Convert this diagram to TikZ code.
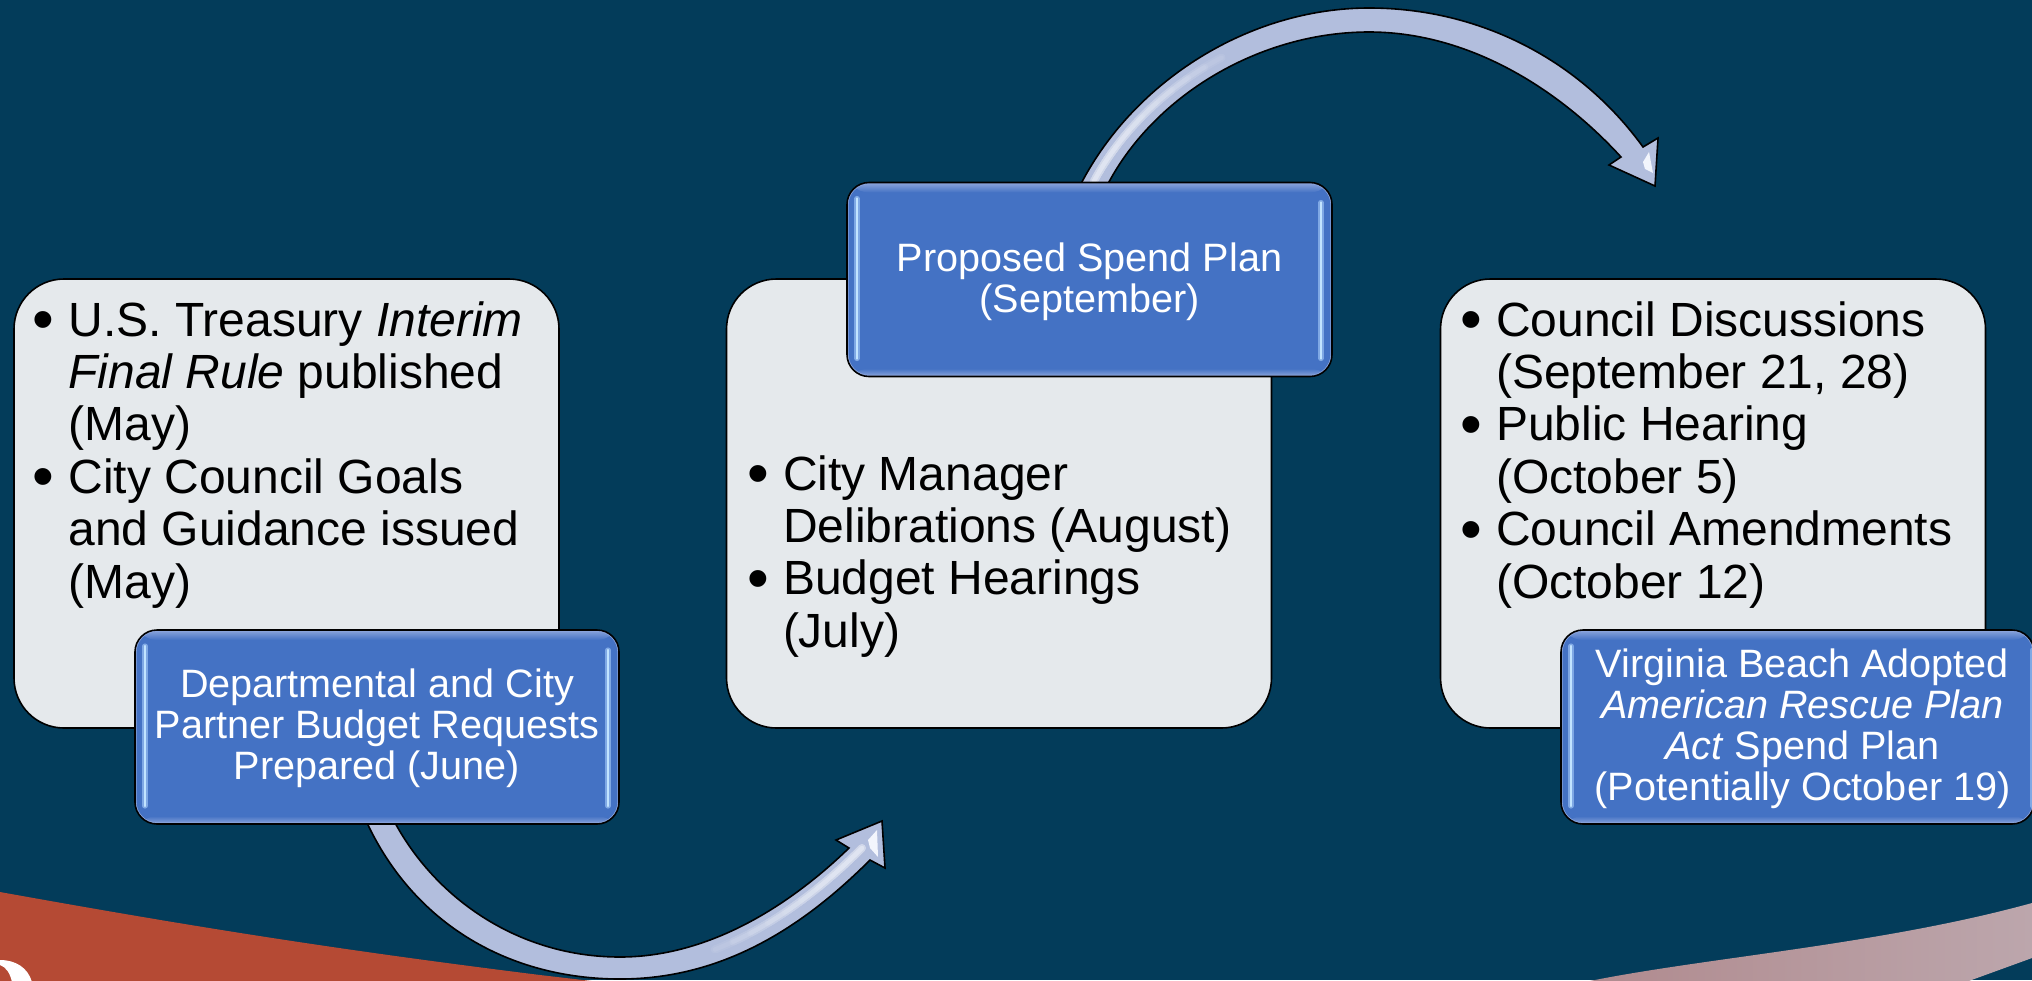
\documentclass[tikz,border=0pt]{standalone}
\usepackage{fontspec}
\setmainfont{Liberation Sans}
\usetikzlibrary{backgrounds}
\definecolor{bgc}{HTML}{033C5A}
\definecolor{redc}{HTML}{B54A34}
\definecolor{grayc}{HTML}{E5E9EC}
\definecolor{bluec}{HTML}{4472C4}
\definecolor{bevelc}{HTML}{8CA5DC}
\definecolor{glowc}{HTML}{7FA8E4}
\definecolor{linec}{HTML}{C2E4FF}
\definecolor{arrowc}{HTML}{B2BEDD}
\definecolor{hic}{HTML}{F2F5FC}
\definecolor{pinkl}{HTML}{B08A8E}
\definecolor{pinkr}{HTML}{BCA6AC}
% first-line baseline sits #1 above the node centre
\newcommand{\graytext}[3]{\smash{\raisebox{#1}{\parbox[t]{#2}{\fontsize{24pt}{26.2pt}\selectfont\leavevmode\color{black}\raggedright #3}}}}
\newcommand{\bluetext}[2]{\smash{\raisebox{#1}{\parbox[t]{230pt}{\fontsize{19.8pt}{20.6pt}\selectfont\leavevmode\color{white}\centering #2}}}}
\newcommand{\bul}{\makebox[18pt][l]{\raisebox{-2.2pt}{\fontsize{31pt}{26pt}\selectfont •}}}
\newcommand{\ind}{\hspace*{18pt}}
\newcommand{\rinset}{5.5pt}
\tikzset{
  rightinset/.code={\renewcommand{\rinset}{#1}},
  grayshape/.style={draw=black,line width=.8pt,fill=grayc,rounded corners=25pt,minimum width=272.5pt,minimum height=224.5pt,inner sep=0pt},
  blueshape/.style={draw=black,line width=.8pt,fill=bluec,rounded corners=11pt,minimum height=97pt,inner sep=0pt,
    path picture={
      \path (path picture bounding box.north west) coordinate (nw) (path picture bounding box.south east) coordinate (se);
      \fill[top color=bevelc,bottom color=bluec] (nw) rectangle ([yshift=-5pt]nw-|se);
      \fill[bottom color=bevelc,top color=bluec] (se) rectangle ([yshift=4pt]se-|nw);
      \draw[bevelc,line width=1.6pt,rounded corners=11pt] (nw) rectangle (se);
      \draw[glowc,line width=2.6pt,line cap=round] ([xshift=5pt,yshift=-8pt]nw) -- ([xshift=5pt,yshift=9pt]nw|-se);
      \draw[linec,line width=1.3pt,line cap=round] ([xshift=5pt,yshift=-8pt]nw) -- ([xshift=5pt,yshift=9pt]nw|-se);
      \draw[glowc,line width=2.6pt,line cap=round] ([xshift=-\rinset,yshift=-10pt]nw-|se) -- ([xshift=-\rinset,yshift=9pt]se);
      \draw[linec,line width=1.3pt,line cap=round] ([xshift=-\rinset,yshift=-10pt]nw-|se) -- ([xshift=-\rinset,yshift=9pt]se);
    }},
  arrowshape/.style={draw=black,line width=.8pt,fill=arrowc,line join=miter},
  glint/.style={hic,line cap=round,opacity=.09},
  kite/.style={fill=hic,draw=none}
}
\begin{document}
\begin{tikzpicture}[x=.5pt,y=-.5pt]
\useasboundingbox (0,0) rectangle (2032,980);

% list panels
\node[grayshape] (g1) at (286.5,503.5) {\graytext{83.75pt}{254pt}{%
\bul U.S. Treasury \textit{Interim}\\
\ind\textit{Final Rule} published\\
\ind(May)\\
\bul City Council Goals\\
\ind and Guidance issued\\
\ind(May)}};
\node[grayshape] (g2) at (999,503.5) {\graytext{6.75pt}{252pt}{%
\bul City Manager\\
\ind Delibrations (August)\\
\bul Budget Hearings\\
\ind(July)}};
\node[grayshape] (g3) at (1713,503.5) {\graytext{83.75pt}{253pt}{%
\bul Council Discussions\\
\ind(September 21, 28)\\
\bul Public Hearing\\
\ind(October 5)\\
\bul Council Amendments\\
\ind(October 12)}};

% milestone boxes
\node[blueshape,minimum width=242pt] (b1) at (377,727) {\bluetext{15pt}{Departmental and City\\Partner Budget Requests\\Prepared (June)}};
\node[blueshape,minimum width=242.5pt] (b2) at (1089.5,279.5) {\bluetext{4.25pt}{Proposed Spend Plan\\(September)}};
\node[blueshape,rightinset=.6pt,minimum width=236.5pt] (b3) at (1797.5,727) {\hspace*{5pt}\bluetext{25pt}{Virginia Beach Adopted\\\textit{American Rescue Plan}\\\textit{Act} Spend Plan\\(Potentially October 19)}};

% arrow end points
\coordinate (a1L) at ([xshift=-5pt,yshift=1pt]b1.south);
\coordinate (a1R) at ([xshift=9pt,yshift=1pt]b1.south);
\coordinate (a1tip) at (882,821);
\coordinate (a2L) at ([xshift=-4.25pt,yshift=-1pt]b2.north);
\coordinate (a2R) at ([xshift=9.25pt,yshift=-1pt]b2.north);
\coordinate (a2tip) at (1655,186);

\begin{scope}[on background layer]
  \fill[bgc] (0,0) rectangle (2032,980);
  % swooshes
  \fill[redc] (0,892) .. controls (200,928) and (340,950) .. (540,975) -- (600,982) -- (0,982) -- cycle;
  \fill[white] (0,960) .. controls (16,960) and (28,968) .. (32,982) -- (12,982) .. controls (10,973) and (6,967) .. (0,965) -- cycle;
  \shade[left color=pinkl,right color=pinkr] (1585,982) .. controls (1700,958) and (1880,945) .. (2032,903) -- (2032,958) -- (1966,982) -- cycle;
  % arrows
  \filldraw[arrowshape] (a1L) .. controls (415,925) and (510,979) .. (620,979) .. controls (720,979) and (800,930) .. (870,860)
     -- (885,868) -- (a1tip) -- (836,840) -- (849,848)
     .. controls (785,910) and (705,957) .. (620,957) .. controls (520,957) and (437,900) .. (a1R) -- cycle;
  \foreach \L in {20,30,40,50,60,70,80,90}{
    \draw[glint,line width=4pt,dash pattern=on \L pt off 900pt] (862,848) .. controls (795,915) and (712,968) .. (620,968);
    \draw[glint,line width=2.2pt,dash pattern=on \L pt off 900pt] (862,848) .. controls (795,915) and (712,968) .. (620,968);
  }
  \fill[kite] (868,840) -- (877,830) -- (878,857) -- (870,848) -- cycle;

  \filldraw[arrowshape] (a2L) .. controls (1135,80) and (1250,8) .. (1369,8) .. controls (1480,8) and (1580,60) .. (1643,147)
     -- (1658,138) -- (a2tip) -- (1609,165) -- (1621,157)
     .. controls (1555,85) and (1465,32) .. (1369,32) .. controls (1260,32) and (1155,95) .. (a2R) -- cycle;
  \foreach \L in {20,30,40,50,60,70,80,90}{
    \draw[glint,line width=4pt,dash pattern=on \L pt off 900pt] (1094,181) .. controls (1145,87) and (1255,20) .. (1369,20);
    \draw[glint,line width=2.2pt,dash pattern=on \L pt off 900pt] (1094,181) .. controls (1145,87) and (1255,20) .. (1369,20);
  }
  \fill[kite] (1643,162) -- (1649,152) -- (1653,173) -- (1645,169) -- cycle;
\end{scope}
\end{tikzpicture}
\end{document}
